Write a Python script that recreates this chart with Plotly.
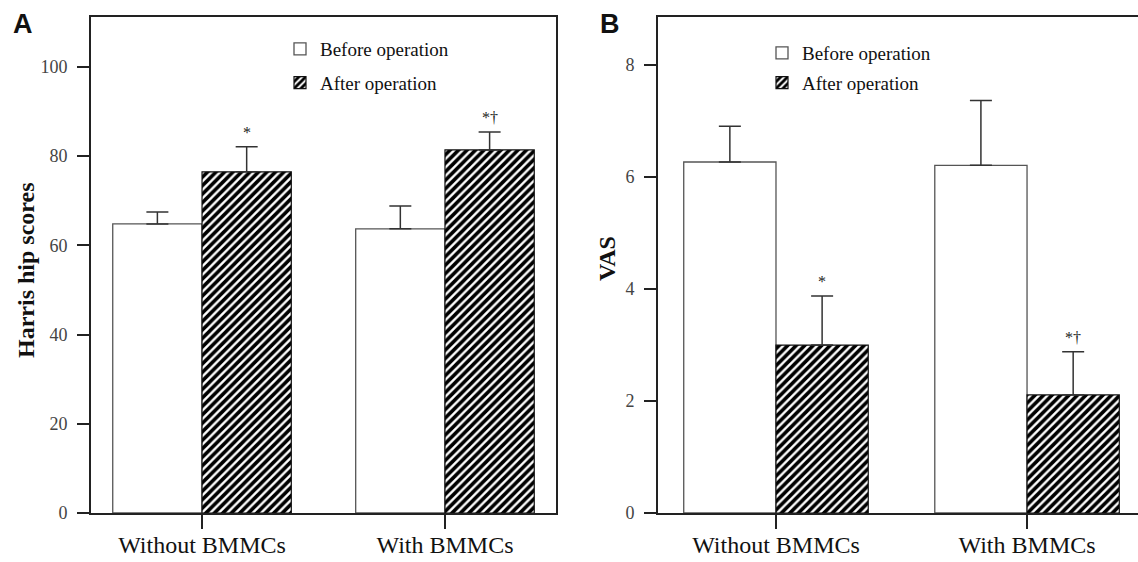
import plotly.graph_objects as go

# ---- data ----
groups = ["Without BMMCs", "With BMMCs"]
series_names = ["Before operation", "After operation"]

harris_before = [64.8, 63.7]
harris_before_err = [2.7, 5.1]
harris_after = [76.5, 81.4]
harris_after_err = [5.6, 4.0]
harris_sig = ["*", "*†"]

vas_before = [6.27, 6.21]
vas_before_err = [0.64, 1.16]
vas_after = [3.0, 2.11]
vas_after_err = [0.875, 0.77]
vas_sig = ["*", "*†"]

harris_ticks = [0, 20, 40, 60, 80, 100]
vas_ticks = [0, 2, 4, 6, 8]

# ---- style ----
W, H = 1138, 562
SERIF = "Liberation Serif"
SANS = "Liberation Sans"
LINE = "#222222"
BARGAP = 0.265

def px_x(p):
    return p / W

def px_y(p):
    return 1 - p / H

def err(arr):
    return dict(type="data", array=arr, arrayminus=[0] * len(arr), symmetric=False,
                color="#333333", thickness=1.5, width=11)

fig = go.Figure()

def add_panel(xa, ya, leg, before, before_err, after, after_err):
    fig.add_trace(go.Bar(
        x=groups, y=before, name=series_names[0], xaxis=xa, yaxis=ya, legend=leg,
        legendgroup=leg + "b",
        marker=dict(color="white", line=dict(color="#555555", width=1.3)),
        error_y=err(before_err)))
    fig.add_trace(go.Bar(
        x=groups, y=after, name=series_names[1], xaxis=xa, yaxis=ya, legend=leg,
        legendgroup=leg + "a",
        marker=dict(color="white", line=dict(color="#111111", width=1.2),
                    pattern=dict(shape="/", fgcolor="black", bgcolor="white",
                                 size=6, solidity=0.6, fillmode="replace")),
        error_y=err(after_err)))

add_panel("x", "y", "legend", harris_before, harris_before_err, harris_after, harris_after_err)
add_panel("x2", "y2", "legend2", vas_before, vas_before_err, vas_after, vas_after_err)

def xax(domain, rng, anchor):
    return dict(domain=domain, range=rng, anchor=anchor, type="category", automargin=False,
                showline=True, linecolor=LINE, linewidth=2, mirror=True,
                ticks="outside", ticklen=14, tickwidth=2, tickcolor=LINE,
                ticklabelstandoff=-5,
                tickfont=dict(family=SERIF, size=24, color="#111111"),
                showgrid=False, zeroline=False, fixedrange=True)

def yax(domain, rng, anchor, tickvals, mirror):
    return dict(domain=domain, range=rng, anchor=anchor, automargin=False,
                showline=True, linecolor=LINE, linewidth=2, mirror=mirror,
                ticks="outside", ticklen=12, tickwidth=2, tickcolor=LINE,
                tickvals=tickvals, ticklabelstandoff=6,
                tickfont=dict(family=SERIF, size=18, color="#444444"),
                showgrid=False, zeroline=False, fixedrange=True)

ydom = [px_y(513), px_y(17)]
fig.update_layout(
    width=W, height=H, autosize=False,
    margin=dict(l=0, r=0, t=0, b=0),
    paper_bgcolor="white", plot_bgcolor="white",
    barmode="group", bargap=BARGAP, bargroupgap=0,
    xaxis=xax([px_x(91), px_x(556)], [-0.457, 1.457], "y"),
    yaxis=yax(ydom, [0, 111.2], "x", harris_ticks, True),
    xaxis2=xax([px_x(658), 1.0], [-0.470, 1.442], "y2"),
    yaxis2=yax(ydom, [0, 8.86], "x2", vas_ticks, False),
    legend=dict(x=px_x(280), y=px_y(30), xanchor="left", yanchor="top",
                bgcolor="rgba(0,0,0,0)", traceorder="grouped", tracegroupgap=6,
                font=dict(family=SERIF, size=19, color="#111111")),
    legend2=dict(x=px_x(762), y=px_y(34), xanchor="left", yanchor="top",
                 bgcolor="rgba(0,0,0,0)", traceorder="grouped", tracegroupgap=2,
                 font=dict(family=SERIF, size=19, color="#111111")),
    showlegend=True,
)

half = (1 - BARGAP) / 4  # offset of the "after" bar centre from category centre
annotations = []
for i, s in enumerate(harris_sig):
    annotations.append(dict(x=i + half, y=harris_after[i] + harris_after_err[i], xref="x", yref="y",
                            text=s, showarrow=False, yanchor="bottom", yshift=4,
                            font=dict(family=SERIF, size=16, color="#222222")))
for i, s in enumerate(vas_sig):
    annotations.append(dict(x=i + half, y=vas_after[i] + vas_after_err[i], xref="x2", yref="y2",
                            text=s, showarrow=False, yanchor="bottom", yshift=4,
                            font=dict(family=SERIF, size=16, color="#222222")))

annotations += [
    dict(x=px_x(26), y=px_y(270), xref="paper", yref="paper", text="<b>Harris hip scores</b>",
         textangle=-90, showarrow=False, xanchor="center", yanchor="middle",
         font=dict(family=SERIF, size=24, color="#111111")),
    dict(x=px_x(607), y=px_y(259), xref="paper", yref="paper", text="<b>VAS</b>",
         textangle=-90, showarrow=False, xanchor="center", yanchor="middle",
         font=dict(family=SERIF, size=24, color="#111111")),
    dict(x=px_x(11), y=px_y(24), xref="paper", yref="paper", text="<b>A</b>",
         showarrow=False, xanchor="left", yanchor="middle",
         font=dict(family=SANS, size=27, color="#111111")),
    dict(x=px_x(598), y=px_y(24), xref="paper", yref="paper", text="<b>B</b>",
         showarrow=False, xanchor="left", yanchor="middle",
         font=dict(family=SANS, size=27, color="#111111")),
]
fig.update_layout(annotations=annotations)

fig.write_html("out.html",
               config={"displayModeBar": False, "staticPlot": True},
               post_script="document.body.style.margin='0px';document.body.style.overflow='hidden';")
